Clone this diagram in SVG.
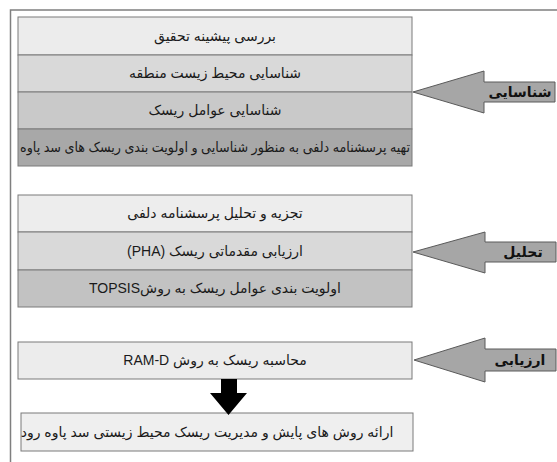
<svg xmlns="http://www.w3.org/2000/svg" width="557" height="462" viewBox="0 0 557 462">
<style>
.t{font-family:"Liberation Sans","DejaVu Sans",sans-serif;font-size:14px;fill:#1a1a1a;text-anchor:middle;direction:rtl}
.lb{font-family:"Liberation Sans","DejaVu Sans",sans-serif;font-size:14px;font-weight:bold;fill:#111;text-anchor:middle;direction:rtl}
.box{stroke:#7a7a7a;stroke-width:1}
.arr{fill:#a6a6a6;stroke:#5a5a5a;stroke-width:1}
</style>
<rect width="557" height="462" fill="#fff"/>
<path d="M557 10 H10.5 V462" fill="none" stroke="#7f7f7f" stroke-width="1.5"/>

<g id="n1"><rect class="box" x="18" y="17" width="394" height="38" fill="#ececec"/><text class="t" x="215" y="41">بررسی پیشینه تحقیق</text></g>
<g id="n2"><rect class="box" x="18" y="55" width="394" height="37" fill="#d9d9d9"/><text class="t" x="215" y="78">شناسایی محیط زیست منطقه</text></g>
<g id="n3"><rect class="box" x="18" y="92" width="394" height="37" fill="#c9c9c9"/><text class="t" x="215" y="115">شناسایی عوامل ریسک</text></g>
<g id="n4"><rect class="box" x="18" y="129" width="394" height="37" fill="#a8a8a8"/><text class="t" x="215" y="152" textLength="390" lengthAdjust="spacingAndGlyphs">تهیه پرسشنامه دلفی به منظور شناسایی و اولویت بندی ریسک های سد پاوه</text></g>

<g id="n5"><rect class="box" x="18" y="195" width="394" height="37" fill="#ededed"/><text class="t" x="215" y="218">تجزیه و تحلیل پرسشنامه دلفی</text></g>
<g id="n6"><rect class="box" x="18" y="232" width="394" height="38" fill="#d9d9d9"/><text class="t" x="215" y="256">ارزیابی مقدماتی ریسک (PHA)</text></g>
<g id="n7"><rect class="box" x="18" y="270" width="394" height="37" fill="#c2c2c2"/><text class="t" x="215" y="293">اولویت بندی عوامل ریسک به روشTOPSIS</text></g>

<g id="n8"><rect class="box" x="18" y="342" width="394" height="37" fill="#ececec"/><text class="t" x="215" y="365">محاسبه ریسک به روش RAM-D</text></g>
<g id="n9"><rect class="box" x="21" y="413" width="392" height="38" fill="#efefef"/><text class="t" x="207" y="437">ارائه روش های پایش و مدیریت ریسک محیط زیستی سد پاوه رود</text></g>

<g id="connectors">
<g id="a1"><polygon class="arr" points="413,92 484,71 484,82 555,82 555,102 484,102 484,113"/><text class="lb" x="520" y="97">شناسایی</text></g>
<g id="a2"><polygon class="arr" points="413,252 485,232 485,242 556,242 556,262 485,262 485,273"/><text class="lb" x="523" y="257">تحلیل</text></g>
<g id="a3"><polygon class="arr" points="414,360 485,338 485,349 556,349 556,371 485,371 485,382"/><text class="lb" x="520" y="365">ارزیابی</text></g>
<polygon id="down" points="221,379 237,379 237,393 247,393 228.5,415 210,393 221,393" fill="#000"/>
</g>
</svg>
